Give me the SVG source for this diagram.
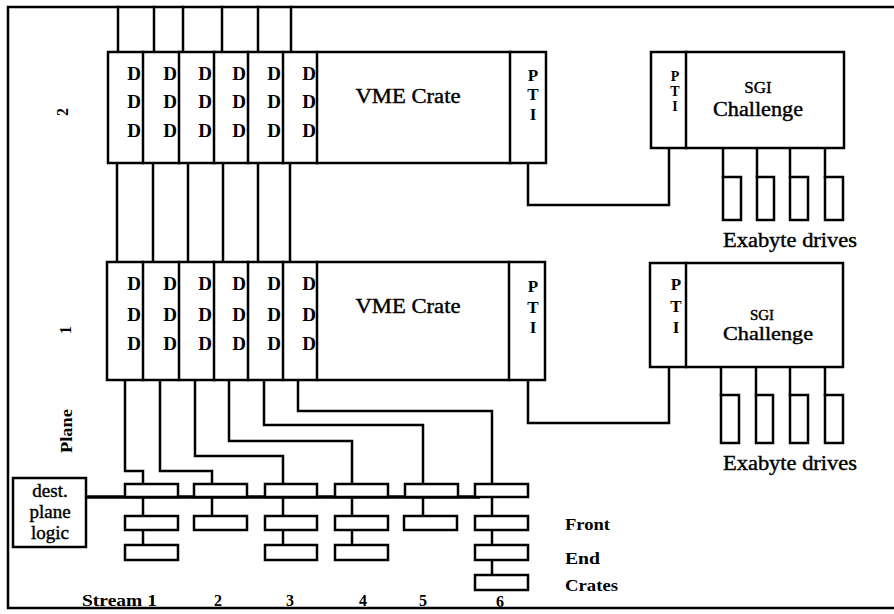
<svg xmlns="http://www.w3.org/2000/svg" width="894" height="614" viewBox="0 0 894 614" font-family="'Liberation Serif', Tinos, 'Times New Roman', 'DejaVu Serif', serif">
<style>
  .ln{fill:none;stroke:#000;stroke-width:2.5;stroke-linecap:square;stroke-linejoin:miter}
  .bx{fill:#fff;stroke:#000;stroke-width:2.5}
  .bus{fill:none;stroke:#000;stroke-width:3.5}
  text{font-family:'Liberation Serif', Tinos, 'Times New Roman', 'DejaVu Serif', serif;fill:#000}
  .d{font-size:19px;font-weight:bold;text-anchor:end}
  .p{font-size:17px;font-weight:bold;text-anchor:middle}
  .lab{font-size:20px;text-anchor:middle;stroke:#000;stroke-width:0.4}
  .b{font-weight:bold}
</style>
<rect width="894" height="614" fill="#fff"/>
<path class="ln" d="M894,7 H8 V608 H894"/>

<g id="connectors">
  <path class="ln" d="M118,7 V52 M154,7 V52 M183,7 V52 M222,7 V52 M258,7 V52 M291,7 V52"/>
  <path class="ln" d="M117,163 V262 M153,163 V262 M188,163 V262 M223,163 V262 M258,163 V262 M290,163 V262"/>
  <path class="ln" d="M125,380 V471 H143 V484"/>
  <path class="ln" d="M160,380 V471 H212 V484"/>
  <path class="ln" d="M195,380 V456 H283 V484"/>
  <path class="ln" d="M229,380 V441 H352 V484"/>
  <path class="ln" d="M264,380 V425 H423 V484"/>
  <path class="ln" d="M298,380 V411 H492 V484"/>
  <path class="ln" d="M528,163 V205 H669 V148"/>
  <path class="ln" d="M528,380 V423 H669 V367"/>
  <path class="ln" d="M723,148 V177 M757,148 V177 M790,148 V177 M825,148 V177"/>
  <path class="ln" d="M721,367 V395 M756,367 V395 M790,367 V395 M825,367 V395"/>
  <path class="ln" d="M143,497 V516 M143,530 V545 M212,497 V516 M283,497 V516 M283,530 V545 M352,497 V516 M352,530 V545 M423,497 V516 M492,497 V516 M492,530 V545 M492,560 V575"/>
  <path class="bus" d="M86,497 H480"/>
</g>

<g id="plane2-crate">
  <rect class="bx" x="108" y="52" width="438" height="111"/>
  <path class="ln" d="M143,52 V163 M179,52 V163 M214,52 V163 M248,52 V163 M283,52 V163 M317,52 V163 M510,52 V163"/>
  <text class="d" x="141" y="80">D</text><text class="d" x="141" y="108">D</text><text class="d" x="141" y="137">D</text>
  <text class="d" x="177" y="80">D</text><text class="d" x="177" y="108">D</text><text class="d" x="177" y="137">D</text>
  <text class="d" x="212" y="80">D</text><text class="d" x="212" y="108">D</text><text class="d" x="212" y="137">D</text>
  <text class="d" x="246" y="80">D</text><text class="d" x="246" y="108">D</text><text class="d" x="246" y="137">D</text>
  <text class="d" x="281" y="80">D</text><text class="d" x="281" y="108">D</text><text class="d" x="281" y="137">D</text>
  <text class="d" x="316" y="80">D</text><text class="d" x="316" y="108">D</text><text class="d" x="316" y="137">D</text>
  <text class="lab" x="408" y="103" textLength="105" lengthAdjust="spacingAndGlyphs">VME Crate</text>
  <text class="p" x="533" y="81">P</text><text class="p" x="533" y="100">T</text><text class="p" x="533" y="120">I</text>
</g>

<g id="plane1-crate">
  <rect class="bx" x="107" y="262" width="438" height="118"/>
  <path class="ln" d="M143,262 V380 M179,262 V380 M214,262 V380 M248,262 V380 M283,262 V380 M317,262 V380 M509,262 V380"/>
  <text class="d" x="141" y="290">D</text><text class="d" x="141" y="321">D</text><text class="d" x="141" y="350">D</text>
  <text class="d" x="177" y="290">D</text><text class="d" x="177" y="321">D</text><text class="d" x="177" y="350">D</text>
  <text class="d" x="212" y="290">D</text><text class="d" x="212" y="321">D</text><text class="d" x="212" y="350">D</text>
  <text class="d" x="246" y="290">D</text><text class="d" x="246" y="321">D</text><text class="d" x="246" y="350">D</text>
  <text class="d" x="281" y="290">D</text><text class="d" x="281" y="321">D</text><text class="d" x="281" y="350">D</text>
  <text class="d" x="316" y="290">D</text><text class="d" x="316" y="321">D</text><text class="d" x="316" y="350">D</text>
  <text class="lab" x="408" y="313" textLength="105" lengthAdjust="spacingAndGlyphs">VME Crate</text>
  <text class="p" x="533" y="292">P</text><text class="p" x="533" y="313">T</text><text class="p" x="533" y="333">I</text>
</g>

<g id="sgi2">
  <rect class="bx" x="651" y="52" width="193" height="96"/>
  <path class="ln" d="M686,52 V148"/>
  <text class="p" x="675" y="81" style="font-size:14px">P</text><text class="p" x="675" y="96" style="font-size:14px">T</text><text class="p" x="675" y="111" style="font-size:14px">I</text>
  <text class="lab" x="758" y="93" style="font-size:17px">SGI</text>
  <text class="lab" x="758" y="116" textLength="90" lengthAdjust="spacingAndGlyphs">Challenge</text>
</g>

<g id="drives2">
  <rect class="bx" x="723" y="177" width="18" height="43"/>
  <rect class="bx" x="757" y="177" width="17" height="43"/>
  <rect class="bx" x="790" y="177" width="18" height="43"/>
  <rect class="bx" x="825" y="177" width="18" height="43"/>
  <text x="723" y="247" style="font-size:20px;stroke:#000;stroke-width:0.4" textLength="134" lengthAdjust="spacingAndGlyphs">Exabyte drives</text>
</g>

<g id="sgi1">
  <rect class="bx" x="650" y="263" width="193" height="104"/>
  <path class="ln" d="M686,263 V367"/>
  <text class="p" x="676" y="290">P</text><text class="p" x="676" y="312">T</text><text class="p" x="676" y="333">I</text>
  <text class="lab" x="762" y="320" style="font-size:15px">SGI</text>
  <text class="lab" x="768" y="340" style="font-size:19px" textLength="90" lengthAdjust="spacingAndGlyphs">Challenge</text>
</g>

<g id="drives1">
  <rect class="bx" x="721" y="395" width="18" height="48"/>
  <rect class="bx" x="756" y="395" width="17" height="48"/>
  <rect class="bx" x="790" y="395" width="18" height="48"/>
  <rect class="bx" x="825" y="395" width="18" height="48"/>
  <text x="723" y="470" style="font-size:20px;stroke:#000;stroke-width:0.4" textLength="134" lengthAdjust="spacingAndGlyphs">Exabyte drives</text>
</g>

<g id="plane-labels">
  <text class="b" text-anchor="middle" dominant-baseline="central" style="font-size:16px" transform="translate(62,112) rotate(-90)">2</text>
  <text class="b" text-anchor="middle" dominant-baseline="central" style="font-size:16px" transform="translate(65,330) rotate(-90)">1</text>
  <text class="b" text-anchor="middle" dominant-baseline="central" style="font-size:17px" transform="translate(66,431) rotate(-90)" textLength="44" lengthAdjust="spacingAndGlyphs">Plane</text>
</g>

<g id="dest-plane-logic">
  <rect class="bx" x="13" y="478" width="73" height="69"/>
  <text class="lab" x="50" y="497" style="font-size:19px">dest.</text>
  <text class="lab" x="50" y="518" style="font-size:19px">plane</text>
  <text class="lab" x="50" y="539" style="font-size:19px">logic</text>
</g>

<g id="stream1">
  <rect class="bx" x="125" y="484" width="53" height="13"/>
  <rect class="bx" x="125" y="516" width="53" height="14"/>
  <rect class="bx" x="125" y="545" width="53" height="15"/>
</g>
<g id="stream2">
  <rect class="bx" x="194" y="484" width="53" height="13"/>
  <rect class="bx" x="194" y="516" width="53" height="14"/>
</g>
<g id="stream3">
  <rect class="bx" x="265" y="484" width="52" height="13"/>
  <rect class="bx" x="265" y="516" width="52" height="14"/>
  <rect class="bx" x="265" y="545" width="52" height="15"/>
</g>
<g id="stream4">
  <rect class="bx" x="335" y="484" width="53" height="13"/>
  <rect class="bx" x="335" y="516" width="53" height="14"/>
  <rect class="bx" x="335" y="545" width="53" height="15"/>
</g>
<g id="stream5">
  <rect class="bx" x="405" y="484" width="53" height="13"/>
  <rect class="bx" x="404" y="516" width="53" height="14"/>
</g>
<g id="stream6">
  <rect class="bx" x="475" y="484" width="53" height="13"/>
  <rect class="bx" x="475" y="516" width="53" height="14"/>
  <rect class="bx" x="475" y="545" width="53" height="15"/>
  <rect class="bx" x="475" y="575" width="53" height="15"/>
</g>

<g id="stream-labels" class="b" style="font-size:16px">
  <text x="82" y="606" textLength="75" lengthAdjust="spacingAndGlyphs">Stream 1</text>
  <text x="218" y="606" text-anchor="middle">2</text>
  <text x="290" y="606" text-anchor="middle">3</text>
  <text x="363" y="606" text-anchor="middle">4</text>
  <text x="423" y="606" text-anchor="middle">5</text>
  <text x="500" y="607" text-anchor="middle">6</text>
</g>

<g id="fe-label" class="b" style="font-size:17px">
  <text x="565" y="530" textLength="45" lengthAdjust="spacingAndGlyphs">Front</text>
  <text x="565" y="564" textLength="35" lengthAdjust="spacingAndGlyphs">End</text>
  <text x="565" y="591" textLength="53" lengthAdjust="spacingAndGlyphs">Crates</text>
</g>
</svg>
